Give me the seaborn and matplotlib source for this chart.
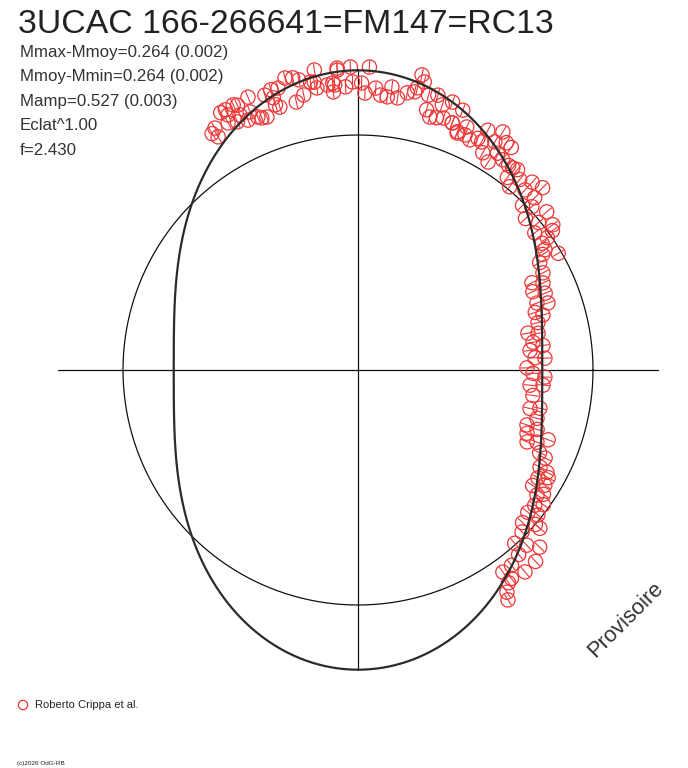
import numpy as np
import pandas as pd
import matplotlib
matplotlib.use('Agg')

import matplotlib.pyplot as plt
import seaborn as sns
from matplotlib.collections import LineCollection

# -------------------------
# Data (phase 0..1 clockwise from top, flux relative to mean)
# -------------------------

phase = [
    0.915, 0.912, 0.914, 0.922, 0.925, 0.925, 0.930, 0.932, 0.923, 0.928,
    0.931, 0.939, 0.937, 0.934, 0.940, 0.945, 0.942, 0.948, 0.952, 0.956,
    0.952, 0.954, 0.952, 0.961, 0.965, 0.968, 0.964, 0.969, 0.974, 0.977,
    0.976, 0.977, 0.983, 0.986, 0.989, 0.986, 0.989, 0.996, 0.006, 0.987,
    0.993, 0.997, 0.002, 0.004, 0.010, 0.013, 0.017, 0.019, 0.023, 0.028,
    0.032, 0.034, 0.036, 0.033, 0.040, 0.041, 0.045, 0.044, 0.048, 0.052,
    0.054, 0.049, 0.058, 0.061, 0.063, 0.068, 0.067, 0.058, 0.063, 0.072,
    0.076, 0.079, 0.079, 0.086, 0.087, 0.092, 0.096, 0.083, 0.089, 0.091,
    0.096, 0.101, 0.104, 0.107, 0.105, 0.110, 0.112, 0.119, 0.126, 0.119,
    0.127, 0.125, 0.130, 0.139, 0.133, 0.141, 0.148, 0.145, 0.153, 0.151,
    0.159, 0.166, 0.154, 0.161, 0.165, 0.173, 0.176, 0.180, 0.183, 0.188,
    0.193, 0.196, 0.200, 0.204, 0.209, 0.216, 0.218, 0.225, 0.229, 0.232,
    0.239, 0.240, 0.248, 0.253, 0.256, 0.264, 0.263, 0.273, 0.285, 0.283,
    0.292, 0.300, 0.307, 0.301, 0.314, 0.311, 0.306, 0.318, 0.320, 0.328,
    0.329, 0.336, 0.332, 0.343, 0.338, 0.347, 0.344, 0.354, 0.350, 0.361,
    0.358, 0.369, 0.364, 0.374, 0.364, 0.383, 0.378, 0.373, 0.386, 0.381,
    0.394, 0.390, 0.401, 0.399, 0.402, 0.406, 0.408,
]

flux = [
    1.196, 1.182, 1.157, 1.241, 1.243, 1.218, 1.247, 1.238, 1.188, 1.174,
    1.196, 1.252, 1.190, 1.162, 1.158, 1.144, 1.148, 1.235, 1.249, 1.247,
    1.213, 1.167, 1.182, 1.281, 1.274, 1.260, 1.170, 1.193, 1.242, 1.290,
    1.239, 1.213, 1.220, 1.226, 1.279, 1.188, 1.288, 1.290, 1.290, 1.217,
    1.206, 1.226, 1.221, 1.179, 1.202, 1.174, 1.169, 1.213, 1.170, 1.198,
    1.208, 1.285, 1.258, 1.227, 1.208, 1.145, 1.218, 1.119, 1.124, 1.132,
    1.209, 1.184, 1.125, 1.192, 1.093, 1.099, 1.133, 1.126, 1.099, 1.089,
    1.110, 1.104, 1.160, 1.132, 1.186, 1.155, 1.150, 1.066, 1.044, 1.097,
    1.086, 1.081, 1.083, 1.090, 1.037, 1.012, 1.063, 1.090, 1.104, 1.045,
    1.050, 0.990, 1.015, 1.048, 0.961, 0.992, 1.034, 0.952, 0.983, 1.018,
    0.946, 0.986, 0.951, 0.927, 0.898, 0.889, 0.828, 0.870, 0.815, 0.861,
    0.813, 0.857, 0.793, 0.821, 0.792, 0.740, 0.782, 0.754, 0.794, 0.737,
    0.755, 0.797, 0.719, 0.745, 0.796, 0.735, 0.790, 0.752, 0.750, 0.791,
    0.789, 0.756, 0.768, 0.803, 0.782, 0.821, 0.862, 0.849, 0.880, 0.878,
    0.914, 0.893, 0.930, 0.891, 0.934, 0.929, 0.950, 0.947, 0.975, 0.943,
    0.983, 0.955, 1.001, 0.981, 1.026, 0.994, 1.035, 1.080, 1.041, 1.111,
    1.057, 1.115, 1.058, 1.101, 1.109, 1.138, 1.168,
]

# fitted light curve: double wave, half amplitude in magnitudes
fit_amp2 = 0.264
eclat_power = 1.00

title = "3UCAC 166-266641=FM147=RC13"
stats = [
    "Mmax-Mmoy=0.264 (0.002)",
    "Mmoy-Mmin=0.264 (0.002)",
    "Mamp=0.527 (0.003)",
    "Eclat^1.00",
    "f=2.430",
]
observer = "Roberto Crippa et al."
credit = "(c)2026 OdG-RB"

# -------------------------
# Polar -> cartesian
# -------------------------

df = pd.DataFrame({'phase': phase, 'flux': flux})
ang = 2 * np.pi * df['phase']
df['x'] = df['flux'] * np.sin(ang)
df['y'] = df['flux'] * np.cos(ang)

fit_phase = np.linspace(0, 1, 1441)
fit_flux = (10 ** (0.4 * fit_amp2 * np.cos(4 * np.pi * fit_phase))) ** eclat_power
fit = pd.DataFrame({
    'x': fit_flux * np.sin(2 * np.pi * fit_phase),
    'y': fit_flux * np.cos(2 * np.pi * fit_phase),
})
rmax = fit_flux.max()

circ = np.linspace(0, 2 * np.pi, 721)

# -------------------------
# Plot
# -------------------------

sns.set_style("white")
plt.rcParams['font.family'] = ['Liberation Sans', 'DejaVu Sans']

W, H = 688, 768
fig = plt.figure(figsize=(W / 100, H / 100), dpi=100)
ax = fig.add_axes([0, 0, 1, 1])
scale = 235.0
cx, cy = 358.0, 370.0
ax.set_xlim(-cx / scale, (W - cx) / scale)
ax.set_ylim(-(H - cy) / scale, cy / scale)
ax.axis('off')

red = '#ee3636'

# mean circle and axes
ax.plot(np.cos(circ), np.sin(circ), color='#111111', lw=0.9)
ax.plot([-rmax, rmax], [0, 0], color='#111111', lw=0.9)
ax.plot([0, 0], [-rmax, rmax], color='#111111', lw=0.9)

# observations
sns.scatterplot(data=df, x='x', y='y', ax=ax, marker='o', s=105,
                facecolor='none', edgecolor=red, linewidth=0.9, zorder=3,
                legend=False)
half = 6.5 / scale
segs = [[(x - half * np.sin(a), y - half * np.cos(a)),
         (x + half * np.sin(a), y + half * np.cos(a))]
        for x, y, a in zip(df['x'], df['y'], ang)]
ax.add_collection(LineCollection(segs, colors=red, linewidths=0.8, zorder=3))

# fitted curve
sns.lineplot(data=fit, x='x', y='y', ax=ax, sort=False, estimator=None,
             color='#2b2b2b', lw=1.6, zorder=4)
ax.set_xlabel('')
ax.set_ylabel('')

# texts
fig.text(18 / W, 1 - 33 / H, title, fontsize=24.3, color='#222222',
         va='baseline')
for i, s in enumerate(stats):
    fig.text(20 / W, 1 - (57 + 24.5 * i) / H, s, fontsize=12.2,
             color='#333333', va='baseline')

fig.text(626 / W, 1 - 620 / H, "Provisoire", fontsize=15.8, color='#333333',
         rotation=45, ha='center', va='center')

ax.scatter([(23 - cx) / scale], [(cy - 705) / scale], s=45, marker='o',
           facecolor='none', edgecolor=red, linewidth=0.9)
fig.text(35 / W, 1 - 705 / H, observer, fontsize=8, color='#222222',
         va='center')
fig.text(17 / W, 1 - 765 / H, credit, fontsize=4.6, color='#222222',
         va='baseline')

fig.savefig("out.png", dpi=100)
plt.close(fig)
